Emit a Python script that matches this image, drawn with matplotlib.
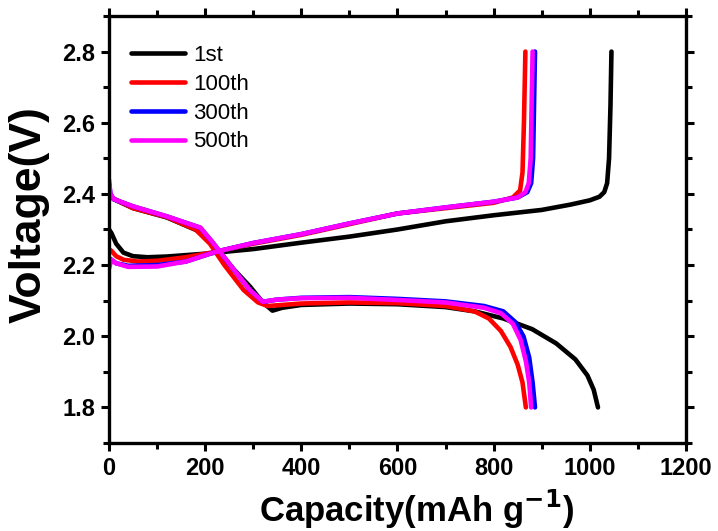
from matplotlib import pyplot as plt
from matplotlib.ticker import MultipleLocator

plt.rcParams['font.family'] = ['Liberation Sans', 'DejaVu Sans']

# 1st cycle
cap_1st_chg = [0, 5, 15, 30, 50, 80, 120, 200, 300, 400, 500, 600, 700, 800, 900, 960, 1000, 1020, 1030, 1036, 1040, 1043, 1045]
v_1st_chg = [2.30, 2.29, 2.26, 2.235, 2.225, 2.222, 2.224, 2.232, 2.245, 2.263, 2.28, 2.30, 2.323, 2.34, 2.355, 2.37, 2.382, 2.392, 2.405, 2.43, 2.5, 2.65, 2.80]
cap_1st_dis = [0, 10, 50, 120, 189, 224, 258, 293, 320, 340, 360, 400, 500, 600, 700, 760, 820, 880, 930, 970, 995, 1008, 1017]
v_1st_dis = [2.40, 2.385, 2.36, 2.334, 2.294, 2.244, 2.19, 2.14, 2.095, 2.072, 2.08, 2.088, 2.092, 2.09, 2.082, 2.07, 2.05, 2.02, 1.98, 1.935, 1.89, 1.85, 1.80]

# 100th cycle
cap_100_chg = [0, 5, 15, 30, 60, 100, 160, 224, 300, 400, 500, 600, 700, 800, 840, 855, 860, 863, 866]
v_100_chg = [2.245, 2.24, 2.225, 2.215, 2.21, 2.212, 2.222, 2.238, 2.26, 2.285, 2.315, 2.345, 2.36, 2.375, 2.39, 2.41, 2.46, 2.6, 2.80]
cap_100_dis = [0, 5, 50, 120, 180, 210, 240, 280, 310, 330, 360, 400, 500, 600, 700, 760, 790, 815, 835, 850, 860, 867]
v_100_dis = [2.41, 2.39, 2.36, 2.335, 2.30, 2.26, 2.20, 2.13, 2.095, 2.085, 2.088, 2.092, 2.095, 2.093, 2.085, 2.07, 2.05, 2.015, 1.97, 1.92, 1.87, 1.80]

# 300th cycle
cap_300_chg = [0, 5, 15, 40, 100, 160, 224, 300, 400, 500, 600, 700, 800, 850, 870, 878, 882, 884, 886]
v_300_chg = [2.22, 2.215, 2.205, 2.198, 2.20, 2.21, 2.238, 2.262, 2.287, 2.317, 2.345, 2.362, 2.378, 2.39, 2.405, 2.43, 2.5, 2.65, 2.80]
cap_300_dis = [0, 3, 10, 50, 120, 190, 216, 258, 293, 320, 350, 400, 500, 600, 700, 780, 820, 845, 862, 874, 881, 886]
v_300_dis = [2.43, 2.40, 2.385, 2.365, 2.337, 2.305, 2.263, 2.19, 2.13, 2.097, 2.103, 2.108, 2.11, 2.105, 2.098, 2.085, 2.07, 2.04, 2.0, 1.94, 1.87, 1.80]

# 500th cycle
cap_500_chg = [0, 5, 15, 40, 100, 160, 224, 300, 400, 500, 600, 700, 800, 850, 866, 873, 877, 879, 881]
v_500_chg = [2.19, 2.215, 2.205, 2.195, 2.196, 2.21, 2.238, 2.262, 2.287, 2.317, 2.345, 2.362, 2.378, 2.39, 2.405, 2.43, 2.5, 2.65, 2.80]
cap_500_dis = [0, 3, 10, 50, 120, 190, 216, 258, 293, 320, 350, 400, 500, 600, 700, 780, 815, 840, 856, 867, 874, 878]
v_500_dis = [2.44, 2.40, 2.385, 2.365, 2.337, 2.305, 2.263, 2.19, 2.13, 2.097, 2.103, 2.107, 2.108, 2.102, 2.095, 2.08, 2.065, 2.035, 1.99, 1.93, 1.87, 1.80]

fig = plt.figure(figsize=(7.18, 5.31), dpi=100)
ax = fig.add_axes([0.1518, 0.1657, 0.8036, 0.8042])

lw = 3.3
ax.plot(cap_1st_chg, v_1st_chg, color='black', lw=lw, label='1st', solid_capstyle='round')
ax.plot(cap_1st_dis, v_1st_dis, color='black', lw=lw, solid_capstyle='round')
ax.plot(cap_100_chg, v_100_chg, color='red', lw=lw, label='100th', solid_capstyle='round')
ax.plot(cap_100_dis, v_100_dis, color='red', lw=lw, solid_capstyle='round')
ax.plot(cap_300_chg, v_300_chg, color='blue', lw=lw, label='300th', solid_capstyle='round')
ax.plot(cap_300_dis, v_300_dis, color='blue', lw=lw, solid_capstyle='round')
ax.plot(cap_500_chg, v_500_chg, color='magenta', lw=lw, label='500th', solid_capstyle='round')
ax.plot(cap_500_dis, v_500_dis, color='magenta', lw=lw, solid_capstyle='round')

ax.set_xlim(0, 1200)
ax.set_ylim(1.7, 2.9)
ax.xaxis.set_major_locator(MultipleLocator(200))
ax.xaxis.set_minor_locator(MultipleLocator(100))
ax.yaxis.set_minor_locator(MultipleLocator(0.1))
ax.set_yticks([1.8, 2.0, 2.2, 2.4, 2.6, 2.8])

for s in ax.spines.values():
    s.set_linewidth(2.4)
ax.tick_params(which='both', direction='out', width=2.2, top=True, right=True)
ax.tick_params(which='major', length=6, pad=4)
ax.tick_params(which='minor', length=4)
for lab in ax.get_xticklabels() + ax.get_yticklabels():
    lab.set_fontweight('bold')
    lab.set_fontsize(17)

ax.set_xlabel('Capacity(mAh g$^{\\mathbf{-1}}$)', fontsize=25, fontweight='bold')
ax.set_ylabel('Voltage(V)', fontsize=32, fontweight='bold')
ax.xaxis.set_label_coords(0.533, -0.105)
ax.yaxis.set_label_coords(-0.103, 0.535)

ax.legend(loc='upper left', bbox_to_anchor=(0.0, 0.984), frameon=False, fontsize=16,
          handlelength=2.4, labelspacing=0.35, handletextpad=0.4, borderaxespad=0.6)

fig.savefig('out.png', dpi=100)
